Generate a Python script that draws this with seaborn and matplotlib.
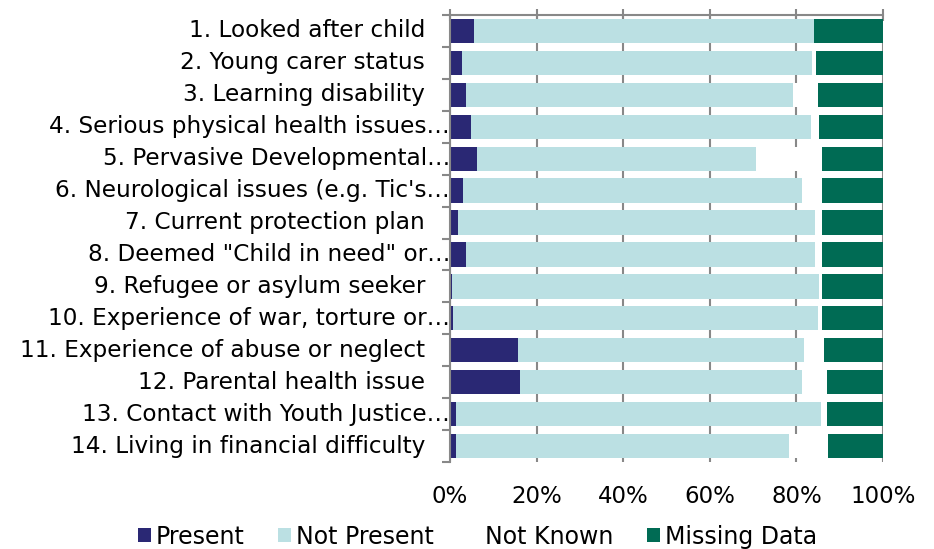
import matplotlib
matplotlib.use("Agg")
import matplotlib.pyplot as plt
from matplotlib.patches import Patch
import numpy as np
import pandas as pd
import seaborn as sns

# Category labels (long ones are shown truncated with an ellipsis)
categories = [
    "1. Looked after child",
    "2. Young carer status",
    "3. Learning disability",
    "4. Serious physical health issues…",
    "5. Pervasive Developmental…",
    "6. Neurological issues (e.g. Tic's…",
    "7. Current protection plan",
    "8. Deemed \"Child in need\" or…",
    "9. Refugee or asylum seeker",
    "10. Experience of war, torture or…",
    "11. Experience of abuse or neglect",
    "12. Parental health issue",
    "13. Contact with Youth Justice…",
    "14. Living in financial difficulty",
]

# Percentages per category
present = [5.5, 2.7, 3.6, 4.8, 6.2, 3.1, 1.8, 3.8, 0.5, 0.8, 15.8, 16.1, 1.4, 1.3]
not_present = [78.5, 80.9, 75.6, 78.6, 64.4, 78.3, 82.6, 80.5, 84.7, 84.2, 65.9, 65.2, 84.3, 77.0]
not_known = [0.0, 0.9, 5.9, 1.9, 15.2, 4.4, 1.4, 1.5, 0.6, 1.0, 4.7, 5.7, 1.4, 8.9]
missing = [16.0, 15.5, 14.9, 14.7, 14.2, 14.2, 14.2, 14.2, 14.2, 14.0, 13.6, 13.0, 12.9, 12.8]

series_names = ["Present", "Not Present", "Not Known", "Missing Data"]
series_colors = ["#2a2874", "#bbe0e3", "#ffffff", "#006b54"]

df = pd.DataFrame({
    "category": categories,
    "Present": present,
    "Not Present": not_present,
    "Not Known": not_known,
    "Missing Data": missing,
})

# Cumulative right edges of each stacked segment
cum = df[series_names].cumsum(axis=1)

sns.set_style("white")
plt.rcParams["font.family"] = ["DejaVu Sans"]

fig = plt.figure(figsize=(9.34, 5.49), dpi=100)
ax = fig.add_axes([450 / 934, 1 - 462 / 549, 433 / 934, 447 / 549])

grid_color = "#888888"

# Draw from the outermost cumulative segment inward so each layer overlays the last
for name, color in reversed(list(zip(series_names, series_colors))):
    sns.barplot(x=cum[name], y=df["category"], color=color, saturation=1,
                width=0.76, orient="h", linewidth=0, ax=ax, zorder=2)

ax.set_xlim(0, 100)
ax.set_ylim(len(categories) - 0.5, -0.5)
ax.set_xlabel("")
ax.set_ylabel("")

# Vertical gridlines behind the bars
ax.set_axisbelow(True)
ax.set_xticks(np.arange(0, 101, 20))
ax.set_xticklabels([f"{v}%" for v in range(0, 101, 20)])
ax.grid(axis="x", color=grid_color, linewidth=1.5, zorder=0)
ax.grid(axis="y", visible=False)

# Horizontal axis line sits on top with crossing ticks; labels underneath
ax.tick_params(axis="x", top=True, bottom=False, labeltop=False, labelbottom=True,
               direction="inout", length=8, width=1.5, color=grid_color,
               labelsize=16.5, pad=12.5, labelcolor="#000000")

# Category axis: ticks at the boundaries between categories
ax.set_yticks(np.arange(-0.5, len(categories), 1.0))
ax.set_yticklabels([])
ax.tick_params(axis="y", left=True, direction="out", length=6, width=1.5,
               color=grid_color)

for side in ["left", "top"]:
    ax.spines[side].set_visible(True)
    ax.spines[side].set_color(grid_color)
    ax.spines[side].set_linewidth(1.5)
ax.spines["right"].set_visible(False)
ax.spines["bottom"].set_visible(False)

# Category labels, right aligned; truncated ones run up to the axis
for i, label in enumerate(categories):
    x = 0.0 if label.endswith("…") else -25 / 433
    ax.text(x, i, label, transform=ax.get_yaxis_transform(), ha="right",
            va="center", fontsize=16.7, color="#000000")

handles = [Patch(facecolor=c, edgecolor="none") for c in series_colors]
fig.legend(handles, series_names, loc="lower center", bbox_to_anchor=(0.511, -0.038),
           ncol=4, frameon=False, fontsize=17, handlelength=0.55, handleheight=0.55,
           handletextpad=0.22, columnspacing=1.4, labelcolor="#000000")

fig.savefig("out.png", dpi=100)
